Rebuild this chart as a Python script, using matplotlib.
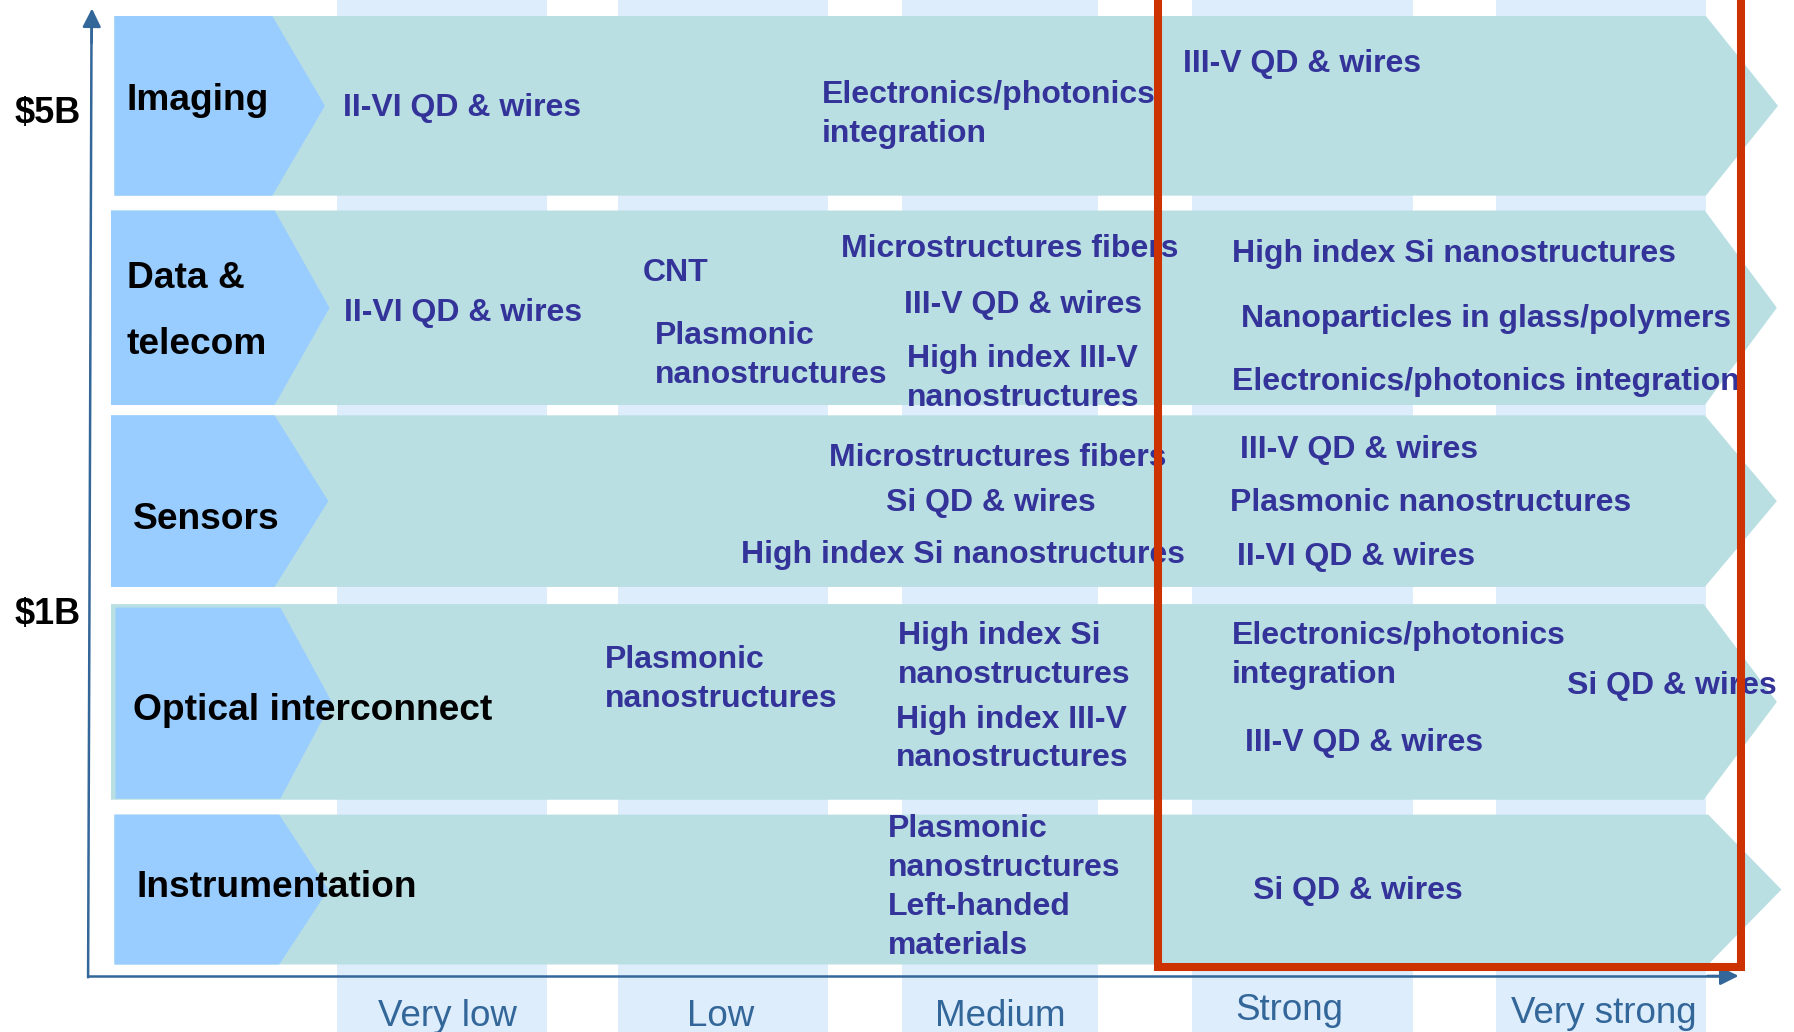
import matplotlib
matplotlib.use("Agg")
import matplotlib.pyplot as plt
from matplotlib.patches import Polygon, Rectangle

plt.rcParams['font.family'] = ['Liberation Sans', 'DejaVu Sans']

# --- data -----------------------------------------------------------------
applications = ["Imaging", "Data &\ntelecom", "Sensors", "Optical interconnect", "Instrumentation"]
impact_levels = ["Very low", "Low", "Medium", "Strong", "Very strong"]
market_ticks = ["$5B", "$1B"]

imaging_tech = ["II-VI QD & wires", "Electronics/photonics\nintegration", "III-V QD & wires"]
telecom_tech = ["II-VI QD & wires", "CNT", "Plasmonic\nnanostructures", "Microstructures fibers",
                "III-V QD & wires", "High index III-V\nnanostructures", "High index Si nanostructures",
                "Nanoparticles in glass/polymers", "Electronics/photonics integration"]
sensors_tech = ["Microstructures fibers", "Si QD & wires", "High index Si nanostructures",
                "III-V QD & wires", "Plasmonic nanostructures", "II-VI QD & wires"]
interconnect_tech = ["Plasmonic\nnanostructures", "High index Si\nnanostructures",
                     "High index III-V\nnanostructures", "Electronics/photonics\nintegration",
                     "Si QD & wires", "III-V QD & wires"]
instrument_tech = ["Plasmonic\nnanostructures\nLeft-handed\nmaterials", "Si QD & wires"]

# --- layout (reference pixel units, 1568 x 902) ---------------------------
W, H = 1568, 902
row_top = [14, 184, 363, 528, 712]
row_bot = [171, 354, 513, 699, 843]
row_left = [100, 97, 97, 97, 100]
blue_edge = [238, 240, 240, 245, 244]
blue_tip = [284, 288, 287, 290, 287]
right_edge = [1491, 1490, 1490, 1489, 1493]
right_tip = [1554, 1553, 1553, 1553, 1557]
band_x = [(294.5, 477.7), (540.5, 723.5), (788.5, 960), (1042, 1234.6), (1307.6, 1491)]
band_lbl = [(391, 897), (630, 897), (874, 897), (1127, 891.5), (1402, 894.5)]

dy = 3  # text centre offset
label_pos = [(111, 85, 0), (111, 240, 58), (116, 451, 0), (116, 618, 0), (119, 773, 0)]
tick_pos = [(13, 96), (13, 534)]

tech_lists = [imaging_tech, telecom_tech, sensors_tech, interconnect_tech, instrument_tech]
tech_pos = [
    [(300, 91), (718, 80), (1034, 53)],
    [(301, 271), (562, 236), (572, 291), (735, 215), (790, 264), (793, 311),
     (1077, 219), (1085, 276), (1077, 331)],
    [(725, 397), (774, 437), (648, 482), (1084, 390), (1075, 437), (1081, 484)],
    [(529, 574), (785, 553), (783, 626), (1077, 553), (1370, 597), (1088, 646)],
    [(776, 722), (1095, 776)],
]
line_step = 33.8

teal = "#b9dfe3"
blue = "#99ccff"
band = "#deedfc"
navy = "#333399"
axis_c = "#336699"
red = "#cc3300"

fig = plt.figure(figsize=(17.94, 10.32), dpi=100)
ax = fig.add_axes([0, 0, 1, 1])
ax.set_xlim(0, W)
ax.set_ylim(H, 0)
ax.axis("off")

# column bands
for (x0, x1), name, (lx, ly) in zip(band_x, impact_levels, band_lbl):
    ax.add_patch(Rectangle((x0, 0), x1 - x0, H, color=band, lw=0, zorder=0))
    ax.text(lx, ly, name, color=axis_c, fontsize=26.5,
            ha="center", va="baseline", zorder=1)

# axes arrows
ax.plot([77, 1510], [853, 853], color=axis_c, lw=1.8, zorder=1)
ax.annotate("", xy=(1522, 853), xytext=(1490, 853),
            arrowprops=dict(arrowstyle="-|>", color=axis_c, lw=1.8, mutation_scale=28), zorder=1)
ax.plot([77, 80], [854, 20], color=axis_c, lw=1.8, zorder=1)
ax.annotate("", xy=(80.4, 5), xytext=(80, 40),
            arrowprops=dict(arrowstyle="-|>", color=axis_c, lw=1.8, mutation_scale=28), zorder=1)

for t, (x, y) in zip(market_ticks, tick_pos):
    ax.text(x, y + dy, t, fontsize=26, fontweight="bold", ha="left", va="center", zorder=5)

# rows
for i in range(len(applications)):
    t, b, l = row_top[i], row_bot[i], row_left[i]
    m = (t + b) / 2
    ax.add_patch(Polygon([(l, t), (right_edge[i], t), (right_tip[i], m), (right_edge[i], b), (l, b)],
                         closed=True, color=teal, lw=0, zorder=2))
    bl = l + 4 if i == 3 else l
    bt, bb = (t + 3, b - 1) if i == 3 else (t, b)
    ax.add_patch(Polygon([(bl, bt), (blue_edge[i], bt), (blue_tip[i], m), (blue_edge[i], bb), (bl, bb)],
                         closed=True, color=blue, lw=0, zorder=3))

    x, y, step = label_pos[i]
    for k, line in enumerate(applications[i].split("\n")):
        ax.text(x, y + k * step + dy, line, fontsize=26.7, fontweight="bold", color="black",
                ha="left", va="center", zorder=5)

    for txt, (tx, ty) in zip(tech_lists[i], tech_pos[i]):
        for k, line in enumerate(txt.split("\n")):
            ax.text(tx, ty + k * line_step + dy, line, fontsize=23, fontweight="bold", color=navy,
                    ha="left", va="center", zorder=4)

# highlight box
ax.plot([1012, 1012, 1522, 1522], [-5, 845, 845, -5], color=red, lw=5.8,
        solid_joinstyle="miter", zorder=6)

fig.savefig("out.png", dpi=100)
